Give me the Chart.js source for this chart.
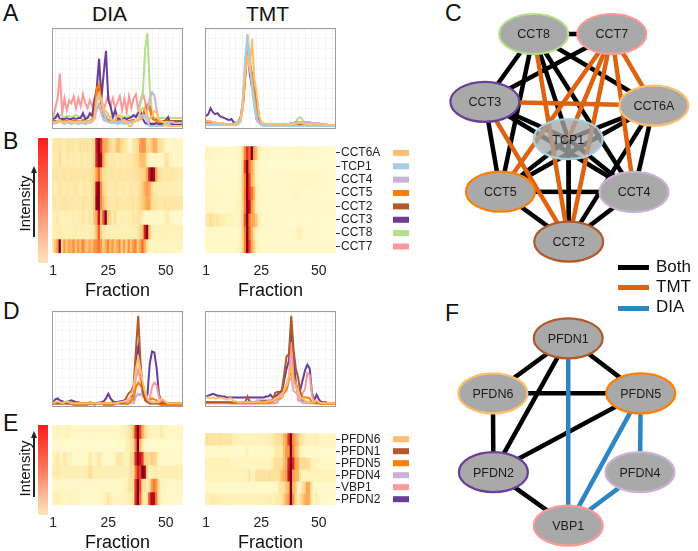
<!DOCTYPE html>
<html>
<head>
<meta charset="utf-8">
<title>CCT and prefoldin co-elution</title>
<script src="https://cdn.jsdelivr.net/npm/chart.js@4.4.1/dist/chart.umd.min.js"></script>
<style>
  body { margin: 0; width: 698px; height: 551px; position: relative; overflow: hidden; background: #fff;
         font-family: "Liberation Sans", Arial, sans-serif; color: #111; }
  .pos { position: absolute; }
  .box { position: absolute; border: 1px solid #9c9c9c; box-sizing: border-box; }
  .letter { position: absolute; font-size: 23px; line-height: 1; }
  .head { position: absolute; font-size: 21px; line-height: 1; width: 131px; text-align: center; top: 3px; }
  .cbar { position: absolute; left: 38px; width: 10px;
          background: linear-gradient(to bottom, #ff1c1c, #fd6f52 45%, #fcb994 78%, #fde4bc); }
  .inten { position: absolute; left: -16px; width: 80px; text-align: center; font-size: 15px; line-height: 1;
           transform: rotate(-90deg); white-space: nowrap; }
  .stem { position: absolute; left: 33px; width: 1.5px; background: #222; }
  .head-arrow { position: absolute; left: 30.7px; width: 0; height: 0; border-left: 3px solid transparent;
                border-right: 3px solid transparent; border-bottom: 7px solid #222; }
  .key { position: absolute; left: 618px; width: 31px; height: 5px; }
  .keytxt { position: absolute; left: 656px; font-size: 17px; line-height: 1; }
</style>
</head>
<body>

<div class="letter" style="left:3px;top:2px">A</div>
<div class="letter" style="left:3px;top:130px">B</div>
<div class="letter" style="left:445px;top:2px">C</div>
<div class="letter" style="left:3px;top:300px">D</div>
<div class="letter" style="left:3px;top:412px">E</div>
<div class="letter" style="left:445px;top:302px">F</div>

<div class="head" style="left:44px">DIA</div>
<div class="head" style="left:202px">TMT</div>

<div class="box" style="left:52px;top:28px;width:131px;height:101px"><canvas id="lineCctDia"></canvas></div>
<div class="box" style="left:205px;top:28px;width:131px;height:101px"><canvas id="lineCctTmt"></canvas></div>
<div class="pos" style="left:42px;top:138px;width:151px;height:162px"><canvas id="heatCctDia"></canvas></div>
<div class="pos" style="left:195px;top:138px;width:220px;height:162px"><canvas id="heatCctTmt"></canvas></div>

<div class="box" style="left:52px;top:311px;width:131px;height:96px"><canvas id="linePfdDia"></canvas></div>
<div class="box" style="left:205px;top:311px;width:131px;height:96px"><canvas id="linePfdTmt"></canvas></div>
<div class="pos" style="left:42px;top:425px;width:151px;height:127px"><canvas id="heatPfdDia"></canvas></div>
<div class="pos" style="left:195px;top:425px;width:220px;height:127px"><canvas id="heatPfdTmt"></canvas></div>

<div class="cbar" style="top:138px;height:125px"></div>
<div class="inten" style="top:195.5px">Intensity</div>
<div class="head-arrow" style="top:166px"></div>
<div class="stem" style="top:172px;height:65px"></div>

<div class="cbar" style="top:425px;height:90px"></div>
<div class="inten" style="top:460.5px">Intensity</div>
<div class="head-arrow" style="top:431px"></div>
<div class="stem" style="top:437px;height:60px"></div>

<div class="pos" style="left:440px;top:0;width:258px;height:270px"><canvas id="netCct"></canvas></div>
<div class="pos" style="left:440px;top:290px;width:258px;height:261px"><canvas id="netPfd"></canvas></div>

<div class="key" style="top:264.5px;background:#000"></div>
<div class="keytxt" style="top:257.8px">Both</div>
<div class="key" style="top:285px;background:#dd6311"></div>
<div class="keytxt" style="top:277.8px">TMT</div>
<div class="key" style="top:305.5px;background:#2b86c5"></div>
<div class="keytxt" style="top:297.8px">DIA</div>

<script>
// fractions 1..57 on the x axis, only 1 / 25 / 50 are labelled
const fractions = Array.from({ length: 57 }, (_, i) => String(i + 1));
const fractionTicks = ['1', '25', '50'];

const cctNames = ['CCT6A', 'TCP1', 'CCT4', 'CCT5', 'CCT2', 'CCT3', 'CCT8', 'CCT7'];
const cctColors = ['#fdbf6f', '#a6cee3', '#cab2d6', '#ff7f00', '#b15928', '#6a3d9a', '#b2df8a', '#fb9a99'];
const pfdNames = ['PFDN6', 'PFDN1', 'PFDN5', 'PFDN4', 'VBP1', 'PFDN2'];
const pfdColors = ['#fdbf6f', '#b15928', '#ff7f00', '#cab2d6', '#fb9a99', '#6a3d9a'];

// elution profiles, DIA, chaperonin (panel A/B)
const cct6aDia = [5,6,6,7,6,5,6,7,6,6,5,6,7,6,6,7,6,7,9,30,35,28,18,17,14,9,7,8,13,13,8,7,6,2,2,6,7,8,18,20,19,10,9,12,17,16,8,7,6,3,2,2,2,2,2,2,2];
const tcp1Dia  = [4,5,5,8,5,4,5,5,4,5,5,4,5,5,4,5,5,6,9,26,32,30,16,9,6,5,5,5,4,5,5,4,5,5,5,6,7,8,12,13,12,6,2,2,2,2,2,2,2,6,6,2,2,2,2,2,2];
const cct4Dia  = [6,6,7,6,6,7,6,6,7,6,6,7,6,6,7,6,7,8,10,18,24,14,8,7,6,6,7,6,6,7,6,6,7,6,6,7,7,8,9,10,12,18,30,36,33,18,8,7,6,6,6,6,6,5,5,5,5];
const cct5Dia  = [7,6,7,8,7,6,7,7,6,7,8,7,6,7,7,6,7,9,14,40,44,26,12,9,8,7,7,8,7,6,7,7,6,7,8,7,7,8,10,14,20,24,22,12,8,7,6,6,6,6,6,6,5,5,5,5,5];
const cct2Dia  = [7,7,6,7,7,8,7,6,7,7,6,7,7,8,7,7,6,8,13,38,40,24,16,10,8,7,7,7,8,7,7,6,7,7,7,8,7,8,10,13,16,20,20,10,8,8,7,7,7,8,7,7,7,7,7,7,7];
const cct3Dia  = [9,10,14,9,9,9,10,9,9,10,9,10,10,15,9,10,15,12,28,40,70,30,55,78,28,22,11,18,10,9,9,10,9,10,11,13,11,15,16,9,5,4,4,4,4,5,4,4,5,8,11,4,3,3,3,3,3];
const cct8Dia  = [12,11,12,13,12,11,12,12,11,12,13,12,11,12,12,11,12,13,18,40,67,30,16,12,12,11,11,12,11,11,12,11,11,12,11,12,13,16,25,35,80,96,40,14,10,10,10,10,10,10,10,10,10,10,10,10,10];
const cct7Dia  = [10,20,30,55,15,30,18,28,25,32,20,30,22,34,25,20,28,22,30,32,36,30,18,26,34,22,30,20,26,32,18,30,16,32,20,30,34,18,28,36,26,12,6,5,5,4,4,4,4,5,4,4,4,4,4,4,4];

// elution profiles, TMT, chaperonin
const cct6aTmt = [8,7,7,6,6,5,5,5,4,4,4,4,4,5,6,8,20,55,70,60,90,50,35,12,6,5,4,4,4,4,4,4,4,4,4,4,4,4,4,4,5,5,5,4,4,4,4,4,4,4,3,3,3,3,3,3,3];
const tcp1Tmt  = [3,3,3,3,3,3,3,3,3,3,3,3,3,3,4,6,25,70,92,60,45,25,10,5,3,2,2,2,2,2,2,2,2,2,2,2,2,2,2,2,2,2,2,2,2,2,2,2,2,2,2,2,2,2,2,2,2];
const cct4Tmt  = [4,4,4,4,4,4,4,4,4,4,4,4,4,4,5,8,30,60,95,70,40,28,8,5,4,4,4,4,4,4,4,4,4,4,4,4,4,5,5,5,6,6,6,6,6,6,5,5,5,5,4,4,4,3,3,3,3];
const cct5Tmt  = [6,6,6,5,5,5,5,5,4,4,4,4,4,5,6,9,25,55,85,65,55,38,12,5,4,4,4,4,4,4,4,4,4,4,4,4,4,5,5,6,6,5,4,4,4,4,4,4,4,4,3,3,3,3,3,3,3];
const cct2Tmt  = [5,5,5,5,5,4,4,4,4,4,4,4,4,5,6,9,22,50,80,70,45,30,10,5,4,3,3,3,3,3,3,3,3,3,3,3,3,3,3,3,3,3,3,3,3,3,3,3,3,3,3,3,3,3,3,3,3];
const cct3Tmt  = [12,14,20,16,14,15,12,11,10,9,8,9,6,5,6,10,25,60,85,55,42,40,30,10,5,4,4,4,4,4,3,3,3,3,3,3,3,3,3,3,4,4,4,3,3,3,3,3,3,3,3,3,3,3,3,3,3];
const cct8Tmt  = [4,4,4,4,4,4,4,4,4,4,4,4,4,4,5,8,24,55,88,60,40,20,8,5,4,4,4,4,4,4,4,4,4,4,4,4,4,4,5,6,10,11,8,5,4,4,4,4,4,4,3,3,3,3,3,3,3];
const cct7Tmt  = [4,4,4,4,4,4,4,4,4,4,4,4,4,4,5,8,20,50,80,60,40,25,8,5,4,3,3,3,3,3,3,3,3,3,3,3,3,3,3,3,3,3,3,3,3,3,3,3,3,3,3,3,3,3,3,3,3];

// elution profiles, DIA, prefoldin (panel D/E)
const pfdn6Dia = [3,4,5,4,3,4,5,4,3,3,3,3,3,3,3,3,3,3,3,3,3,3,3,3,3,3,3,3,3,4,4,5,6,8,12,20,40,51,38,25,14,8,5,4,4,4,4,8,6,4,3,3,3,3,3,3,3];
const pfdn1Dia = [3,3,3,3,3,3,3,3,3,3,3,3,3,3,3,3,3,3,3,3,3,3,3,3,3,3,3,3,3,3,3,4,10,14,16,22,60,96,45,15,6,4,3,3,3,3,3,3,3,3,3,3,3,3,3,3,3];
const pfdn5Dia = [2,3,4,3,2,4,3,2,2,1,1,1,1,1,1,1,4,3,1,3,4,3,1,1,1,1,1,2,4,4,4,3,2,3,6,7,20,25,22,19,8,7,6,8,7,6,2,1,1,1,1,1,1,1,1,1,1];
const pfdn4Dia = [2,2,3,2,2,2,2,2,2,2,2,2,2,2,2,2,4,3,2,2,2,2,2,2,2,2,2,2,2,2,2,2,2,2,4,3,10,13,12,16,15,5,2,2,2,2,2,2,2,2,2,2,2,2,2,2,2];
const vbp1Dia  = [2,2,2,2,2,2,2,2,2,2,2,2,2,2,2,2,2,2,2,2,2,2,2,2,2,2,2,2,2,2,2,3,4,7,8,9,30,39,28,10,9,5,8,20,25,22,10,4,3,2,2,2,2,2,2,2,2];
const pfdn2Dia = [4,7,8,6,5,4,4,5,6,5,4,4,3,3,3,3,3,3,3,3,3,4,5,8,13,8,5,4,4,5,5,6,6,7,9,12,50,63,42,15,10,12,45,58,57,40,12,6,4,3,3,3,3,3,3,3,3];

// elution profiles, TMT, prefoldin
const pfdn6Tmt = [9,9,8,9,8,8,9,8,8,7,8,8,5,5,4,4,4,4,4,4,4,4,4,4,4,4,4,5,5,6,8,9,9,10,18,22,32,42,25,20,16,9,8,5,4,4,4,4,6,4,3,3,3,3,3,3,3];
const pfdn1Tmt = [4,4,4,4,4,4,4,4,4,4,4,4,4,4,4,4,4,4,10,4,4,4,4,4,5,5,5,5,5,6,14,15,15,17,35,53,55,96,60,40,30,14,6,5,4,4,4,4,4,4,3,3,3,3,3,3,3];
const pfdn5Tmt = [4,4,4,4,4,4,4,4,4,4,4,3,3,3,3,3,3,3,3,3,3,3,3,3,3,3,3,3,4,5,8,8,8,9,15,18,30,37,30,20,17,10,9,9,9,8,4,3,3,3,2,2,2,2,2,2,2];
const pfdn4Tmt = [3,3,3,3,3,3,3,3,3,3,3,3,3,3,3,3,3,3,3,6,3,3,6,6,6,6,6,6,7,6,6,6,7,12,14,16,26,30,16,14,13,6,3,3,3,3,3,3,3,3,3,3,3,3,3,3,3];
const vbp1Tmt  = [3,3,3,3,3,3,3,3,3,3,3,3,3,3,3,3,3,3,3,3,3,3,3,3,3,3,3,3,3,3,3,4,12,13,14,24,30,68,30,25,6,5,14,18,35,33,12,4,3,3,3,3,3,3,3,3,3];
const pfdn2Tmt = [10,11,12,13,12,11,11,10,10,9,9,9,9,9,9,9,9,9,9,9,9,9,9,9,9,9,10,10,12,9,10,12,14,16,28,40,48,86,50,25,12,18,28,38,44,40,14,6,12,7,4,4,4,3,3,3,3];

// network layouts (arbitrary 0-10 units) and edges
const cctNodeX = [8.29, 4.97, 7.52, 2.34, 4.99, 1.74, 3.63, 6.66];
const cctNodeY = [6.09, 4.85, 2.89, 2.90, 1.05, 6.23, 8.74, 8.74];
const cctEdges = [
  ['CCT8', 'CCT7', 'Both'], ['CCT8', 'CCT3', 'Both'], ['CCT8', 'CCT6A', 'Both'], ['CCT8', 'TCP1', 'Both'],
  ['CCT8', 'CCT5', 'Both'], ['CCT8', 'CCT4', 'Both'], ['CCT8', 'CCT2', 'TMT'], ['CCT7', 'CCT3', 'Both'],
  ['CCT7', 'CCT6A', 'TMT'], ['CCT7', 'TCP1', 'TMT'], ['CCT7', 'CCT5', 'TMT'], ['CCT7', 'CCT4', 'TMT'],
  ['CCT7', 'CCT2', 'TMT'], ['CCT3', 'CCT6A', 'TMT'], ['CCT3', 'TCP1', 'Both'], ['CCT3', 'CCT5', 'Both'],
  ['CCT3', 'CCT4', 'Both'], ['CCT3', 'CCT2', 'TMT'], ['CCT6A', 'TCP1', 'Both'], ['CCT6A', 'CCT5', 'Both'],
  ['CCT6A', 'CCT4', 'Both'], ['CCT6A', 'CCT2', 'Both'], ['TCP1', 'CCT5', 'Both'], ['TCP1', 'CCT4', 'Both'],
  ['TCP1', 'CCT2', 'Both'], ['CCT5', 'CCT4', 'Both'], ['CCT5', 'CCT2', 'Both'], ['CCT4', 'CCT2', 'Both']
];
const pfdNodeX = [2.05, 4.97, 7.78, 7.75, 4.97, 2.07];
const pfdNodeY = [6.04, 8.15, 6.04, 3.02, 0.97, 3.02];
const pfdEdges = [
  ['PFDN1', 'PFDN6', 'Both'], ['PFDN1', 'PFDN5', 'Both'], ['PFDN1', 'PFDN2', 'Both'], ['PFDN6', 'PFDN5', 'Both'],
  ['PFDN6', 'PFDN2', 'Both'], ['PFDN2', 'PFDN5', 'Both'], ['PFDN2', 'VBP1', 'Both'], ['PFDN1', 'VBP1', 'DIA'],
  ['PFDN5', 'VBP1', 'DIA'], ['PFDN5', 'PFDN4', 'DIA'], ['PFDN4', 'VBP1', 'DIA']
];
const edgeColors = { Both: '#000000', TMT: '#dd6311', DIA: '#2b86c5' };

Chart.defaults.font.family = '"Liberation Sans", Arial, sans-serif';
Chart.defaults.color = '#222';
Chart.defaults.animation = false;
Chart.defaults.plugins.legend.display = false;
Chart.defaults.plugins.tooltip.enabled = false;

// pale yellow -> orange -> dark red
const heatStops = [[0, '#fffcd4'], [0.1, '#fff3ba'], [0.2, '#fee3a0'], [0.35, '#fdc97a'], [0.5, '#fda856'],
                   [0.62, '#fc8239'], [0.75, '#f03c22'], [0.88, '#c80f1f'], [1, '#7d0020']];
function hexRgb(h) { return [1, 3, 5].map(i => parseInt(h.slice(i, i + 2), 16)); }
function heatColor(t) {
  t = Math.max(0, Math.min(1, t));
  for (let i = 1; i < heatStops.length; i++) {
    if (t <= heatStops[i][0]) {
      const [t0, c0] = heatStops[i - 1], [t1, c1] = heatStops[i];
      const f = (t - t0) / (t1 - t0), a = hexRgb(c0), b = hexRgb(c1);
      return 'rgb(' + a.map((v, k) => Math.round(v + (b[k] - v) * f)).join(',') + ')';
    }
  }
  return heatStops[heatStops.length - 1][1];
}

function lineChart(id, series, colors) {
  new Chart(document.getElementById(id), {
    type: 'line',
    data: {
      labels: fractions,
      datasets: series.map((d, i) => ({ data: d, borderColor: colors[i], borderWidth: 2, pointRadius: 0, tension: 0 }))
    },
    options: {
      responsive: true, maintainAspectRatio: false,
      layout: { padding: 0 },
      scales: {
        x: { ticks: { display: false }, border: { display: false },
             grid: { drawTicks: false, color: c => (c.index % 3 === 1 ? '#f4f4f4' : 'rgba(0,0,0,0)') } },
        y: { min: 0, max: 100, ticks: { display: false, stepSize: 10 }, border: { display: false },
             grid: { drawTicks: false, color: '#f4f4f4' } }
      }
    }
  });
}

const swatchPlugin = {
  id: 'swatch',
  afterDraw(chart, args, opts) {
    if (!opts.colors) return;
    const { ctx, chartArea, scales: { y } } = chart;
    opts.colors.forEach((c, i) => {
      const py = y.getPixelForValue(i + 0.5);
      ctx.fillStyle = c;
      ctx.fillRect(chartArea.right + 57, py - 3, 16, 6);
    });
  }
};

function heatChart(id, names, series, swatches) {
  new Chart(document.getElementById(id), {
    type: 'bar',
    data: {
      labels: fractions,
      datasets: series.map((vals, r) => {
        const top = Math.max(...vals);
        return { data: vals.map(() => [r, r + 1]), backgroundColor: vals.map(v => heatColor(v / top)),
                 borderWidth: 0, barPercentage: 1, categoryPercentage: 1, grouped: false };
      })
    },
    options: {
      responsive: true, maintainAspectRatio: false,
      layout: { padding: { left: 10, right: swatches ? 19 : 10, top: 0, bottom: 0 } },
      scales: {
        x: {
          grid: { display: false }, border: { display: false },
          ticks: { autoSkip: false, maxRotation: 0, padding: 2, font: { size: 14 }, color: '#222',
                   callback(v) { const l = this.getLabelForValue(v); return fractionTicks.includes(l) ? l : ''; } },
          title: { display: true, text: 'Fraction', color: '#111', font: { size: 18, lineHeight: 1 },
                   padding: { top: 0, bottom: 0 } }
        },
        y: {
          type: 'linear', min: 0, max: names.length, reverse: true, display: !!swatches, position: 'right',
          afterBuildTicks: s => { s.ticks = names.map((n, i) => ({ value: i + 0.5 })); },
          afterFit: s => { s.width = swatches ? 60 : 0; },
          grid: { drawOnChartArea: false, tickLength: 4, color: '#333' },
          border: { display: false },
          ticks: { autoSkip: false, padding: 1, font: { size: 12 }, color: '#222', callback: v => names[Math.floor(v)] }
        }
      },
      plugins: { swatch: { colors: swatches } }
    },
    plugins: [swatchPlugin]
  });
}

const nodePlugin = {
  id: 'nodes',
  afterDatasetsDraw(chart, args, o) {
    const { ctx, scales: { x, y } } = chart;
    o.names.forEach((n, i) => {
      const px = x.getPixelForValue(o.nx[i]), py = y.getPixelForValue(o.ny[i]);
      ctx.save();
      ctx.beginPath();
      ctx.ellipse(px, py, 34.5, 20, 0, 0, Math.PI * 2);
      ctx.fillStyle = n === o.glass ? 'rgba(166,166,166,0.78)' : '#a9a9a9';
      ctx.fill();
      ctx.lineWidth = 2.2;
      ctx.strokeStyle = o.colors[i];
      ctx.stroke();
      ctx.fillStyle = '#1b1b1b';
      ctx.font = '12.5px "Liberation Sans", Arial, sans-serif';
      ctx.textAlign = 'center';
      ctx.textBaseline = 'middle';
      ctx.fillText(n, px, py + 1);
      ctx.restore();
    });
  }
};

function networkChart(id, names, nx, ny, colors, edges, glass) {
  const at = n => names.indexOf(n);
  new Chart(document.getElementById(id), {
    type: 'scatter',
    data: {
      datasets: edges.map(([a, b, kind]) => ({
        data: [{ x: nx[at(a)], y: ny[at(a)] }, { x: nx[at(b)], y: ny[at(b)] }],
        showLine: true, borderColor: edgeColors[kind], borderWidth: 4.5, pointRadius: 0,
        order: kind === 'Both' ? 1 : 0
      }))
    },
    options: {
      responsive: true, maintainAspectRatio: false,
      layout: { padding: 0 },
      scales: { x: { type: 'linear', min: 0, max: 10, display: false }, y: { min: 0, max: 10, display: false } },
      plugins: { nodes: { names, nx, ny, colors, glass } }
    },
    plugins: [nodePlugin]
  });
}

lineChart('lineCctDia', [cct6aDia, tcp1Dia, cct4Dia, cct5Dia, cct2Dia, cct3Dia, cct8Dia, cct7Dia], cctColors);
lineChart('lineCctTmt', [cct6aTmt, tcp1Tmt, cct4Tmt, cct5Tmt, cct2Tmt, cct3Tmt, cct8Tmt, cct7Tmt], cctColors);
heatChart('heatCctDia', cctNames, [cct6aDia, tcp1Dia, cct4Dia, cct5Dia, cct2Dia, cct3Dia, cct8Dia, cct7Dia], null);
heatChart('heatCctTmt', cctNames, [cct6aTmt, tcp1Tmt, cct4Tmt, cct5Tmt, cct2Tmt, cct3Tmt, cct8Tmt, cct7Tmt], cctColors);

lineChart('linePfdDia', [pfdn6Dia, pfdn1Dia, pfdn5Dia, pfdn4Dia, vbp1Dia, pfdn2Dia], pfdColors);
lineChart('linePfdTmt', [pfdn6Tmt, pfdn1Tmt, pfdn5Tmt, pfdn4Tmt, vbp1Tmt, pfdn2Tmt], pfdColors);
heatChart('heatPfdDia', pfdNames, [pfdn6Dia, pfdn1Dia, pfdn5Dia, pfdn4Dia, vbp1Dia, pfdn2Dia], null);
heatChart('heatPfdTmt', pfdNames, [pfdn6Tmt, pfdn1Tmt, pfdn5Tmt, pfdn4Tmt, vbp1Tmt, pfdn2Tmt], pfdColors);

networkChart('netCct', cctNames, cctNodeX, cctNodeY, cctColors, cctEdges, 'TCP1');
networkChart('netPfd', pfdNames, pfdNodeX, pfdNodeY, pfdColors, pfdEdges, null);
</script>
</body>
</html>
